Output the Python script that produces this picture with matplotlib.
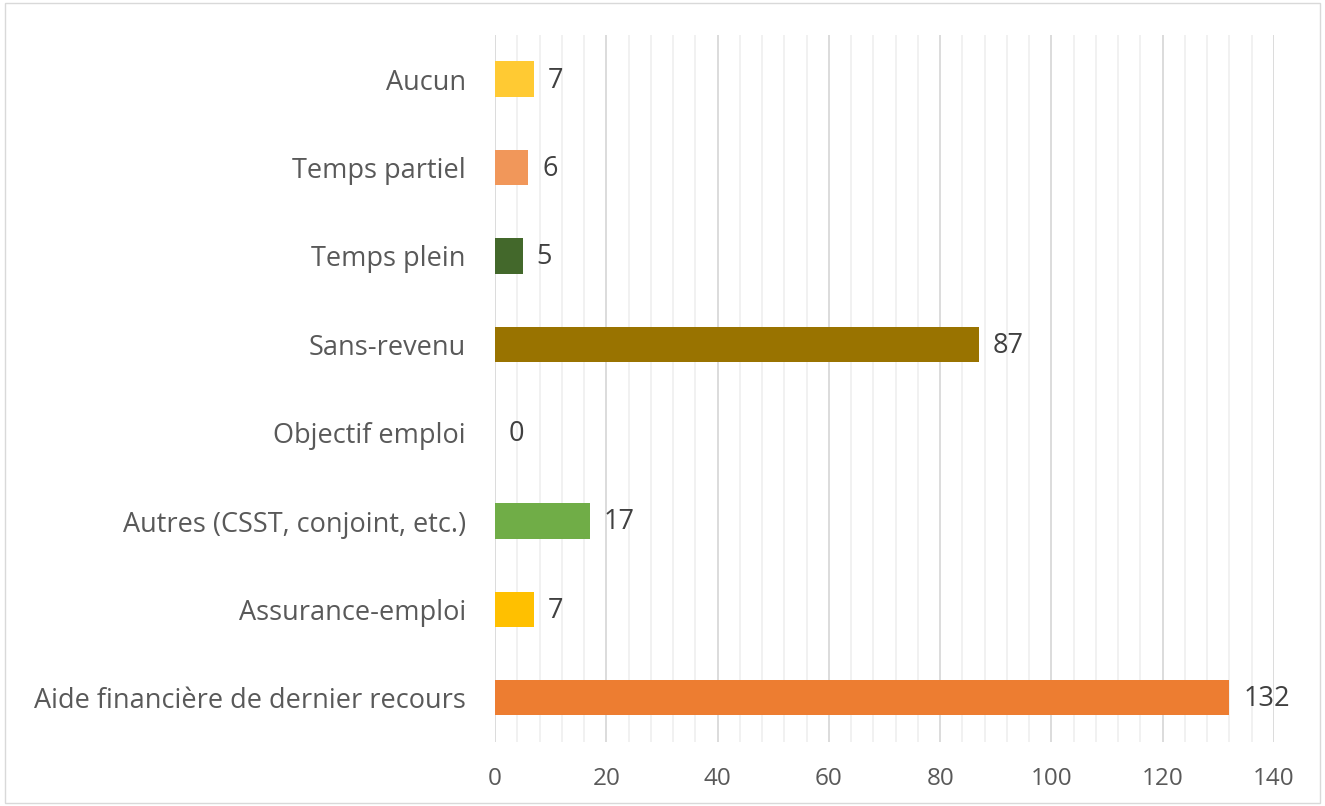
import matplotlib.pyplot as plt
from matplotlib.patches import Rectangle
import numpy as np

categories = ["Aide financière de dernier recours", "Assurance-emploi",
              "Autres (CSST, conjoint, etc.)", "Objectif emploi", "Sans-revenu",
              "Temps plein", "Temps partiel", "Aucun"]
values = [132, 7, 17, 0, 87, 5, 6, 7]
colors = ["#ED7D31", "#FFC000", "#70AD47", "#5B9BD5", "#997300",
          "#43682B", "#F1975A", "#FFCA33"]

plt.rcParams['font.family'] = ['Open Sans', 'DejaVu Sans']

fig = plt.figure(figsize=(13.25, 8.06), dpi=100)
ax = fig.add_axes([0.3736, 0.0794, 0.5879, 0.8772])

y = np.arange(len(categories))
ax.barh(y, values, height=0.4, color=colors, zorder=3)

for yi, v in zip(y, values):
    ax.annotate(str(v), (v, yi), xytext=(10, -1), textcoords='offset points',
                va='center', ha='left', fontsize=19.5, color='#404040')

ax.set_xlim(0, 140)
ax.set_ylim(-0.5, len(categories) - 0.5)
ax.set_xticks(np.arange(0, 141, 20))
ax.set_xticks(np.arange(0, 141, 4), minor=True)
ax.grid(which='major', axis='x', color='#d9d9d9', linewidth=1.3, zorder=0)
ax.grid(which='minor', axis='x', color='#f0f0f0', linewidth=1.3, zorder=0)
ax.set_yticks(y)
ax.set_yticklabels(categories, fontsize=19.5)
ax.tick_params(axis='both', which='both', length=0, labelcolor='#595959')
ax.tick_params(axis='x', labelsize=17.5, pad=18)
ax.tick_params(axis='y', pad=21)
for s in ax.spines.values():
    s.set_visible(False)

fig.patches.append(Rectangle((0.004, 0.004), 0.992, 0.992, transform=fig.transFigure,
                             fill=False, edgecolor='#d9d9d9', linewidth=1))

fig.savefig('out.png', dpi=100)
